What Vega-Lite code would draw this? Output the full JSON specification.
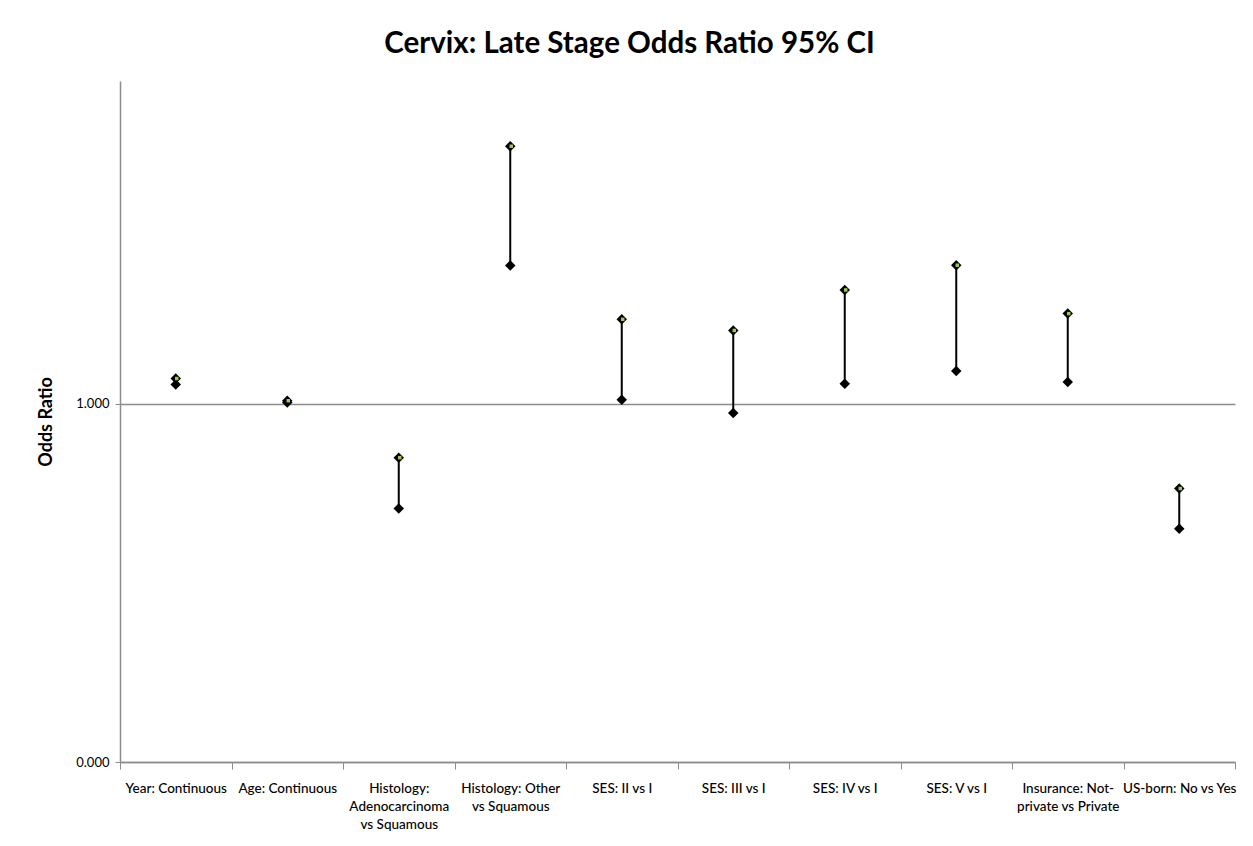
{
  "$schema": "https://vega.github.io/schema/vega-lite/v6.json",
  "width": 1115,
  "height": 681,
  "autosize": {"type": "none"},
  "padding": {"left": 120, "top": 81, "right": 18, "bottom": 84},
  "background": "white",
  "title": {
    "text": "Cervix: Late Stage Odds Ratio 95% CI",
    "font": "Lato",
    "fontSize": 29.5,
    "fontWeight": "bold",
    "color": "black",
    "anchor": "middle",
    "dx": -48,
    "offset": 22
  },
  "data": {
    "values": [
      {"factor": "Year: Continuous", "lower": 1.053, "upper": 1.070},
      {"factor": "Age: Continuous", "lower": 1.003, "upper": 1.008},
      {"factor": "Histology:|Adenocarcinoma|vs Squamous", "lower": 0.707, "upper": 0.849},
      {"factor": "Histology: Other|vs Squamous", "lower": 1.385, "upper": 1.718},
      {"factor": "SES: II vs I", "lower": 1.011, "upper": 1.235},
      {"factor": "SES: III vs I", "lower": 0.974, "upper": 1.204},
      {"factor": "SES: IV vs I", "lower": 1.055, "upper": 1.317},
      {"factor": "SES: V vs I", "lower": 1.091, "upper": 1.386},
      {"factor": "Insurance: Not-|private vs Private", "lower": 1.060, "upper": 1.251},
      {"factor": "US-born: No vs Yes", "lower": 0.651, "upper": 0.763}
    ]
  },
  "encoding": {
    "x": {
      "field": "factor",
      "type": "nominal",
      "sort": null,
      "scale": {"paddingInner": 0, "paddingOuter": 0},
      "axis": {
        "title": null,
        "labelAngle": 0,
        "labelExpr": "datum.value ? split(datum.value, '|') : ''",
        "labelFont": "Lato",
        "labelFontSize": 13.5,
        "labelFontWeight": 500,
        "labelColor": "black",
        "labelLineHeight": 18,
        "labelPadding": 12,
        "labelBaseline": "top",
        "tickBand": "extent",
        "tickColor": "#8c8c8c",
        "tickSize": 7,
        "domainColor": "#8c8c8c",
        "domainWidth": 1.5,
        "grid": false
      }
    }
  },
  "layer": [
    {
      "mark": {"type": "rule", "color": "black", "strokeWidth": 2},
      "encoding": {
        "y": {
          "field": "lower",
          "type": "quantitative",
          "scale": {"domain": [0, 1.9], "nice": false, "zero": true},
          "axis": {
            "title": "Odds Ratio",
            "titleFont": "Lato",
            "titleFontSize": 18,
            "titleFontWeight": "bold",
            "titleColor": "black",
            "titlePadding": 20,
            "values": [0, 1],
            "format": ".3f",
            "labelFont": "Lato",
            "labelFontSize": 13,
            "labelColor": "black",
            "labelPadding": 6,
            "tickColor": "#8c8c8c",
            "tickSize": 5,
            "domainColor": "#8c8c8c",
            "domainWidth": 1.5,
            "grid": true,
            "gridColor": "#8c8c8c",
            "gridWidth": 1.5
          }
        },
        "y2": {"field": "upper"}
      }
    },
    {
      "mark": {"type": "point", "shape": "diamond", "filled": true, "color": "black", "size": 110, "opacity": 1},
      "encoding": {"y": {"field": "lower", "type": "quantitative"}}
    },
    {
      "mark": {"type": "point", "shape": "diamond", "filled": true, "color": "black", "size": 110, "opacity": 1},
      "encoding": {"y": {"field": "upper", "type": "quantitative"}}
    },
    {
      "mark": {"type": "point", "shape": "square", "filled": true, "color": "#9acd4a", "size": 12, "opacity": 1, "xOffset": 1},
      "encoding": {"y": {"field": "upper", "type": "quantitative"}}
    }
  ],
  "config": {"view": {"stroke": null}}
}
